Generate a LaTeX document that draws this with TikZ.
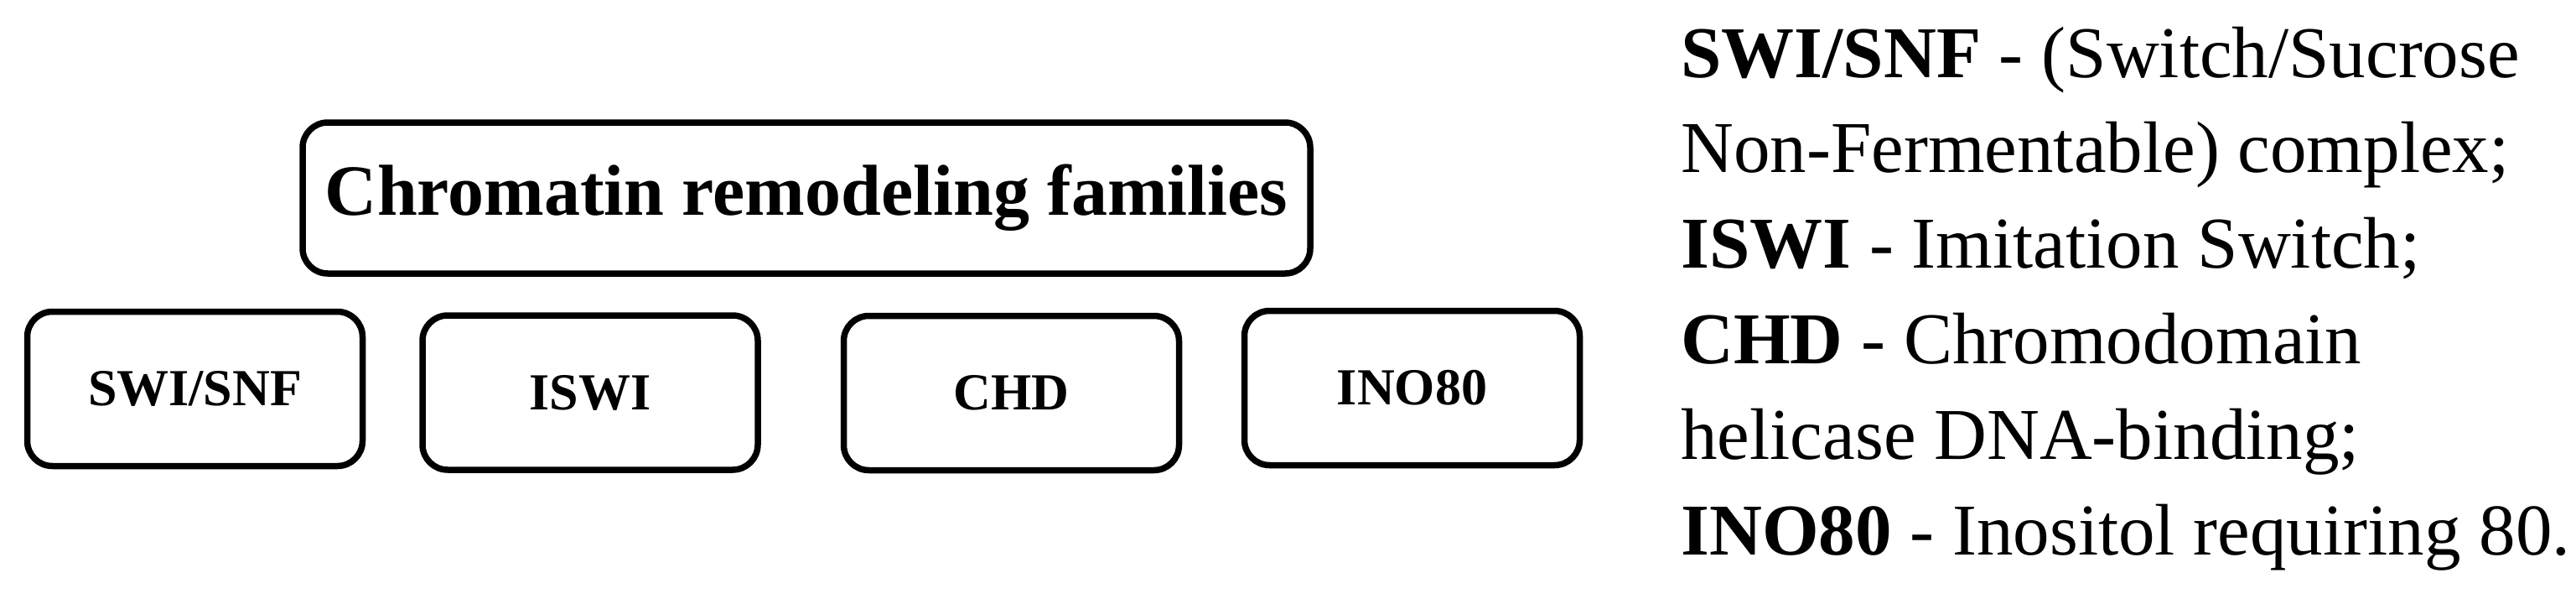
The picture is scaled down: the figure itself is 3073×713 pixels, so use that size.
\documentclass[tikz,border=0pt]{standalone}
\usepackage{fontspec}
\setmainfont{Liberation Serif}

\begin{document}
\begin{tikzpicture}[x=0.5pt,y=-0.5pt,
    family/.style={draw, line width=3.75pt, rounded corners=15pt, inner sep=0pt},
    sub/.style={family, minimum width=200pt, minimum height=92pt,
        font=\fontsize{31}{36}\selectfont\bfseries},
    legend/.style={anchor=base west, inner sep=0pt,
        font=\fontsize{43.5}{50}\selectfont}]
    \useasboundingbox (0,0) rectangle (3073,713);
    \node[family, minimum width=601pt, minimum height=90pt,
        font=\fontsize{43}{50}\selectfont\bfseries] (chrom) at (962,236) {Chromatin remodeling families};
    \node[sub] (swi) at (232.5,463.5) {SWI/SNF};
    \node[sub] (iswi) at (704,468) {ISWI};
    \node[sub] (chd) at (1206.5,468.5) {CHD};
    \node[sub] (ino) at (1684.5,462.5) {INO80};
    \foreach \txt [count=\i from 0] in {{\textbf{SWI/SNF} - (Switch/Sucrose},
        {Non-Fermentable) complex;}, {\textbf{ISWI} - Imitation Switch;},
        {\textbf{CHD} - Chromodomain}, {helicase DNA-binding;},
        {\textbf{INO80} - Inositol requiring 80.}}
        \node[legend] (l\i) at (2005,92+113.8*\i) {\txt};
\end{tikzpicture}
\end{document}
